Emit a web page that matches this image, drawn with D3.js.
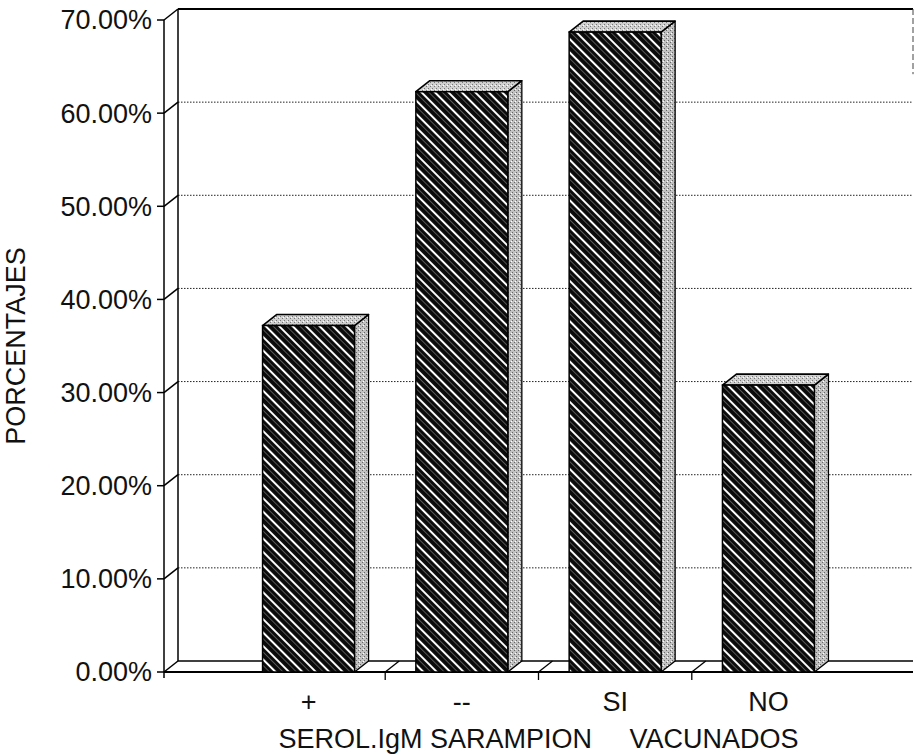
<!DOCTYPE html>
<html><head><meta charset="utf-8">
<script src="https://cdn.jsdelivr.net/npm/d3@7"></script>
<style>
html,body{margin:0;padding:0;background:#fff;}
svg{display:block;}
text{font-family:"Liberation Sans",Arial,Helvetica,sans-serif;fill:#111;}
</style></head>
<body>
<svg id="chart" width="915" height="754"></svg>
<script>
// ---- data ----
const categories = ["+", "--", "SI", "NO"];
const values = [0.372, 0.623, 0.687, 0.308];
const yTicks = [0, 0.1, 0.2, 0.3, 0.4, 0.5, 0.6, 0.7];
const groupTitle = "SEROL.IgM SARAMPION     VACUNADOS";
const yTitle = "PORCENTAJES";

(function(){
// ---- layout ----
const plotL = 164, plotR = 913, plotT = 20, plotB = 672;
const dx = 14, dy = -11; // 3D depth offset

const svg = d3.select("#chart");
const defs = svg.append("defs");

// hatch pattern: black with white diagonal "\" stripes
const hatch = defs.append("pattern").attr("id","hatch")
  .attr("patternUnits","userSpaceOnUse").attr("width",9.5).attr("height",9.5)
  .attr("patternTransform","rotate(-45)");
hatch.append("rect").attr("width",9.5).attr("height",9.5).attr("fill","#0a0a0a");
hatch.append("line").attr("x1",4.75).attr("x2",4.75).attr("y1",0).attr("y2",9.5)
  .attr("stroke","#fff").attr("stroke-width",2);
hatch.append("line").attr("x1",0.5).attr("x2",0.5).attr("y1",0).attr("y2",9.5)
  .attr("stroke","#666").attr("stroke-width",0.8);

// stipple pattern for top / side faces
function stipple(id, base, dot){
  const p = defs.append("pattern").attr("id",id)
    .attr("patternUnits","userSpaceOnUse").attr("width",4).attr("height",4);
  p.append("rect").attr("width",4).attr("height",4).attr("fill",base);
  p.append("rect").attr("x",0).attr("y",0).attr("width",1).attr("height",1).attr("fill",dot);
  p.append("rect").attr("x",2).attr("y",2).attr("width",1).attr("height",1).attr("fill",dot);
  p.append("rect").attr("x",3).attr("y",1).attr("width",1).attr("height",1).attr("fill","#fff");
}
stipple("topFace","#d0d0d0","#777");
stipple("sideFace","#c2c2c2","#666");

const y = d3.scaleLinear().domain([0, 0.7]).range([plotB, plotT]);
const x = d3.scaleBand().domain(categories).range([plotL, plotR])
  .paddingInner(0).paddingOuter(0.443);
const step = x.step();
const bw = step * 0.6;
const barX = c => x(c) + (step - bw) / 2;

const g = svg.append("g");

// back wall gridlines (dotted)
g.selectAll("line.grid").data(yTicks.filter(t => t > 0 && t < 0.7)).join("line")
  .attr("class","grid")
  .attr("x1", plotL + dx).attr("x2", plotR)
  .attr("y1", d => y(d) + dy).attr("y2", d => y(d) + dy)
  .attr("stroke","#222").attr("stroke-width",1).attr("stroke-dasharray","1.5,1.5");

// back wall top line and floor back line
g.append("line").attr("x1",plotL+dx).attr("x2",plotR).attr("y1",y(0.7)+dy).attr("y2",y(0.7)+dy)
  .attr("stroke","#000").attr("stroke-width",1.8);
g.append("line").attr("x1",plotL+dx).attr("x2",plotR).attr("y1",y(0)+dy).attr("y2",y(0)+dy)
  .attr("stroke","#000").attr("stroke-width",1.5);
// right edge (faint, partial)
g.append("line").attr("x1",plotR).attr("x2",plotR).attr("y1",y(0.7)+dy).attr("y2",y(0.63)+dy)
  .attr("stroke","#444").attr("stroke-width",1).attr("stroke-dasharray","6,3");

// left wall: back vertical and front axis
g.append("line").attr("x1",plotL+dx).attr("x2",plotL+dx).attr("y1",y(0.7)+dy).attr("y2",y(0)+dy)
  .attr("stroke","#000").attr("stroke-width",1.5);
g.append("line").attr("x1",plotL).attr("x2",plotL).attr("y1",y(0.7)).attr("y2",y(0)+6)
  .attr("stroke","#000").attr("stroke-width",1.5);

// tick marks + slanted wall ticks
const tk = g.selectAll("g.tick").data(yTicks).join("g").attr("class","tick");
tk.append("line").attr("x1",plotL-7).attr("x2",plotL).attr("y1",d=>y(d)).attr("y2",d=>y(d))
  .attr("stroke","#000").attr("stroke-width",1.5);
tk.append("line").attr("x1",plotL).attr("x2",plotL+dx).attr("y1",d=>y(d)).attr("y2",d=>y(d)+dy)
  .attr("stroke","#000").attr("stroke-width",1.5);
tk.append("text").attr("x",plotL-12).attr("y",d=>y(d)).attr("dy","0.35em")
  .attr("text-anchor","end").attr("font-size",27)
  .text(d => d3.format(".2%")(d));

// floor front line
g.append("line").attr("x1",plotL).attr("x2",plotR).attr("y1",y(0)).attr("y2",y(0))
  .attr("stroke","#000").attr("stroke-width",1.8);

// floor dividers at band boundaries + x ticks
const bounds = categories.slice(1).map(c => x(c));
g.selectAll("line.fdiv").data(bounds).join("line").attr("class","fdiv")
  .attr("x1",d=>d).attr("x2",d=>d+dx).attr("y1",y(0)).attr("y2",y(0)+dy)
  .attr("stroke","#000").attr("stroke-width",1.3);
g.selectAll("line.xt").data(bounds).join("line").attr("class","xt")
  .attr("x1",d=>d).attr("x2",d=>d).attr("y1",y(0)).attr("y2",y(0)+8)
  .attr("stroke","#000").attr("stroke-width",1.3);

// bars
const bars = g.selectAll("g.bar").data(categories.map((c,i)=>({c, v: values[i]}))).join("g").attr("class","bar");
// side face
bars.append("path").attr("d", d => {
  const xr = barX(d.c) + bw, yt = y(d.v), yb = y(0);
  return `M${xr},${yt}L${xr+dx},${yt+dy}L${xr+dx},${yb+dy}L${xr},${yb}Z`;
}).attr("fill","url(#sideFace)").attr("stroke","#000").attr("stroke-width",1.3).attr("stroke-linejoin","round");
// top face
bars.append("path").attr("d", d => {
  const xl = barX(d.c), xr = xl + bw, yt = y(d.v);
  return `M${xl},${yt}L${xl+dx},${yt+dy}L${xr+dx},${yt+dy}L${xr},${yt}Z`;
}).attr("fill","url(#topFace)").attr("stroke","#000").attr("stroke-width",1.6).attr("stroke-linejoin","round");
// front face
bars.append("rect").attr("x", d => barX(d.c)).attr("y", d => y(d.v))
  .attr("width", bw).attr("height", d => y(0) - y(d.v))
  .attr("fill","url(#hatch)").attr("stroke","#000").attr("stroke-width",1.5);

// category labels
g.selectAll("text.cat").data(categories).join("text").attr("class","cat")
  .attr("x", c => barX(c) + bw/2).attr("y", 711)
  .attr("text-anchor","middle").attr("font-size",27).text(c => c);

// group title
g.append("text").attr("x", (barX(categories[0]) + barX(categories[3]) + bw) / 2).attr("y", 748)
  .attr("text-anchor","middle").attr("font-size",27).style("white-space","pre")
  .text(groupTitle);

// y title
g.append("text").attr("transform", `translate(25,${(plotT+plotB)/2}) rotate(-90)`)
  .attr("text-anchor","middle").attr("font-size",27).text(yTitle);
})();
</script>
</body></html>
